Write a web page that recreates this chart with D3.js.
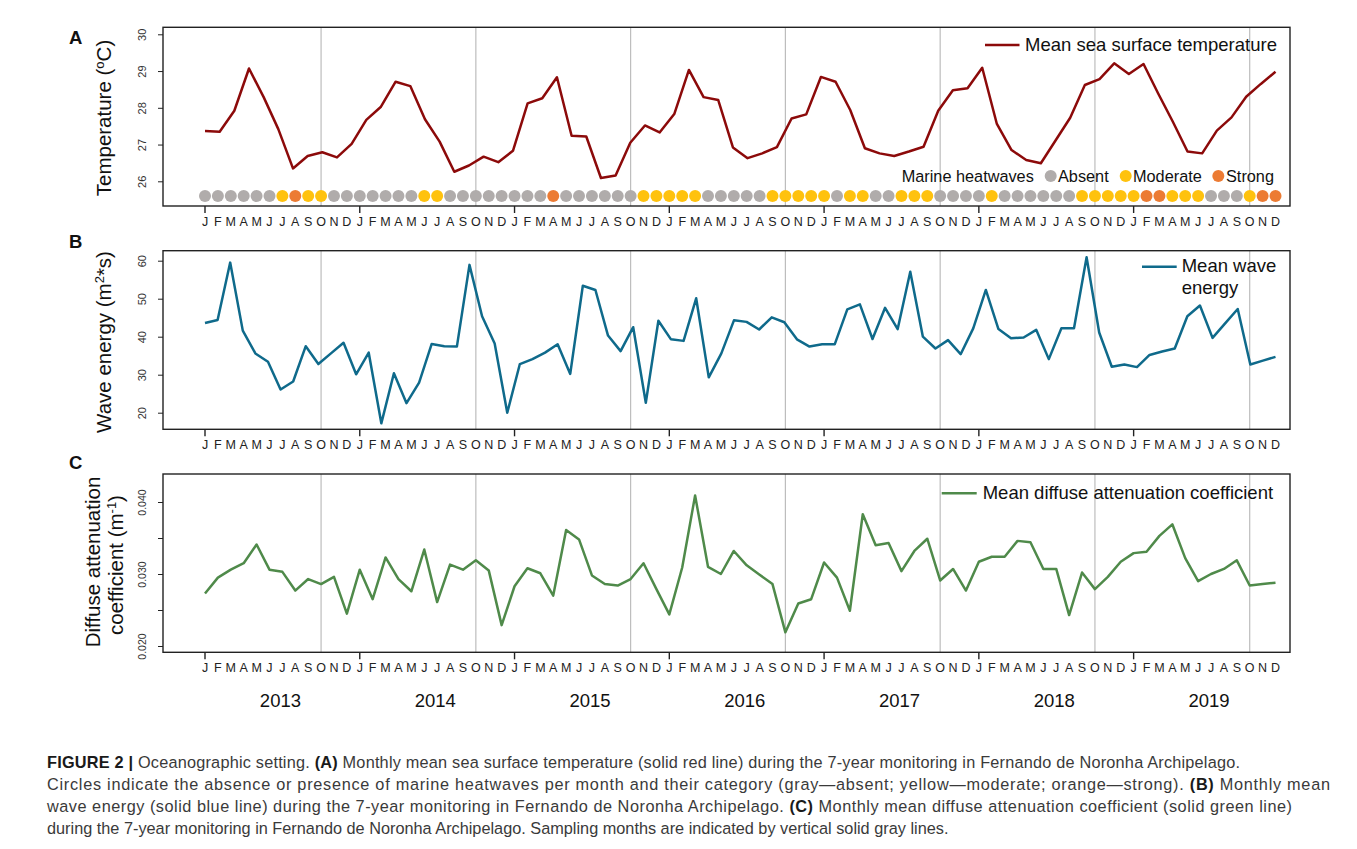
<!DOCTYPE html>
<html>
<head>
<meta charset="utf-8">
<script src="https://cdn.jsdelivr.net/npm/d3@7"></script>
<style>
body { margin: 0; background: #fff; }
text { font-family: "Liberation Sans", Arial, sans-serif; }
</style>
</head>
<body>
<div id="chartDiv"></div>
<script>

// ---- data ----
var monthLetters = ["J","F","M","A","M","J","J","A","S","O","N","D"];
var years = [2013, 2014, 2015, 2016, 2017, 2018, 2019];
var samplingMonth = 9; // October, gray vertical lines

// mean sea surface temperature (degC)
var sst = [27.37, 27.35, 27.92, 29.07, 28.29, 27.42, 26.35, 26.69, 26.79, 26.65,
	27.02, 27.67, 28.03, 28.71, 28.59, 27.69, 27.08, 26.26, 26.43, 26.67,
	26.52, 26.83, 28.12, 28.26, 28.83, 27.24, 27.22, 26.09, 26.16, 27.05,
	27.52, 27.33, 27.83, 29.03, 28.29, 28.21, 26.92, 26.63, 26.76, 26.93,
	27.71, 27.82, 28.84, 28.71, 27.94, 26.90, 26.76, 26.69, 26.81, 26.94,
	27.92, 28.48, 28.53, 29.09, 27.56, 26.85, 26.58, 26.49, 27.11, 27.73,
	28.62, 28.78, 29.21, 28.92, 29.19, 28.39, 27.62, 26.81, 26.76, 27.38,
	27.74, 28.30, 28.65, 28.98];

// marine heatwave category per month, index into heatCategories
var heatCategories = ["Absent", "Moderate", "Strong"];
var heatwaves = [
	0,0,0,0,0,0,1,2,1,1,0,0,
	0,0,0,0,0,1,1,0,0,0,0,0,
	0,0,0,2,0,0,0,0,0,0,1,1,
	1,1,1,0,0,0,0,0,1,1,1,1,
	1,0,1,1,0,0,1,1,1,0,0,0,
	0,1,0,0,0,0,0,0,1,1,1,1,
	1,2,2,1,1,1,0,0,0,1,2,2];

// mean wave energy (m2*s)
var waveEnergy = [43.6, 44.4, 59.5, 41.6, 35.6, 33.4, 26.1, 28.2, 37.5, 32.8,
	35.6, 38.4, 30.1, 35.8, 17.2, 30.4, 22.5, 27.9, 38.1, 37.5,
	37.4, 58.9, 45.4, 38.2, 20.0, 32.8, 34.1, 35.8, 38.0, 30.2,
	53.4, 52.3, 40.3, 36.2, 42.5, 22.6, 44.2, 39.3, 38.9, 50.1,
	29.3, 35.6, 44.3, 43.9, 41.9, 45.1, 43.8, 39.3, 37.4, 38.0,
	38.0, 47.2, 48.5, 39.4, 47.6, 42.0, 57.1, 40.0, 36.9, 39.1,
	35.4, 42.2, 52.3, 42.0, 39.6, 39.8, 41.8, 34.1, 42.2, 42.2,
	60.9, 41.1, 32.1, 32.7, 32.0, 35.2, 36.1, 36.9, 45.4, 48.2,
	39.7, 43.5, 47.3, 32.7, 33.7, 34.7];

// mean diffuse attenuation coefficient (m-1)
var kd = [0.0273, 0.0295, 0.0306, 0.0315, 0.0341, 0.0306, 0.0303, 0.0277, 0.0293, 0.0286,
	0.0296, 0.0245, 0.0306, 0.0265, 0.0323, 0.0293, 0.0276, 0.0334, 0.0261, 0.0313,
	0.0306, 0.0319, 0.0305, 0.0229, 0.0283, 0.0308, 0.0301, 0.0270, 0.0361, 0.0348,
	0.0298, 0.0286, 0.0284, 0.0293, 0.0315, 0.0279, 0.0244, 0.0309, 0.0409, 0.0310,
	0.0300, 0.0332, 0.0312, 0.0299, 0.0286, 0.0219, 0.0259, 0.0265, 0.0316, 0.0295,
	0.0249, 0.0383, 0.0340, 0.0343, 0.0304, 0.0332, 0.0349, 0.0291, 0.0307, 0.0277,
	0.0317, 0.0324, 0.0324, 0.0346, 0.0344, 0.0307, 0.0307, 0.0243, 0.0302, 0.0279,
	0.0296, 0.0317, 0.0329, 0.0331, 0.0353, 0.0369, 0.0322, 0.0290, 0.0300, 0.0307,
	0.0319, 0.0284, 0.0286, 0.0288];

var tempTicks = [26, 27, 28, 29, 30];
var waveTicks = [20, 30, 40, 50, 60];
var kdTicks = [0.020, 0.025, 0.030, 0.035, 0.040];
var kdLabelled = [0.020, 0.030, 0.040];

var captionLines = [
	[["FIGURE 2 | ", true], ["Oceanographic setting. ", false], ["(A)", true], [" Monthly mean sea surface temperature (solid red line) during the 7-year monitoring in Fernando de Noronha Archipelago.", false]],
	[["Circles indicate the absence or presence of marine heatwaves per month and their category (gray\u2014absent; yellow\u2014moderate; orange\u2014strong). ", false], ["(B)", true], [" Monthly mean", false]],
	[["wave energy (solid blue line) during the 7-year monitoring in Fernando de Noronha Archipelago. ", false], ["(C)", true], [" Monthly mean diffuse attenuation coefficient (solid green line)", false]],
	[["during the 7-year monitoring in Fernando de Noronha Archipelago. Sampling months are indicated by vertical solid gray lines.", false]]
];

;(function() {

	var width = 1357;
	var height = 849;
	var frameLeft = 163, frameRight = 1290;
	var plotLeft = 205, plotRight = 1275.5;
	var ink = "#222";

	var colors = { sst: "#8c0a0a", wave: "#0f6a8b", kd: "#4f8a4a", grid: "#bdbdbd" };
	var heatColor = d3.scaleOrdinal().domain(heatCategories).range(["#b0acab", "#ffc20e", "#ec7b33"]);

	var svg = d3.select("#chartDiv").append("svg")
		.attr("width", width)
		.attr("height", height)
		.style("display", "block");

	svg.append("rect").attr("width", width).attr("height", height).attr("fill", "#fff");

	var nMonths = years.length * 12;
	var xMonth = d3.scaleLinear().domain([0, nMonths - 1]).range([plotLeft, plotRight]);

	var panels = [
		{ key: "A", top: 27.3, bottom: 206, letterY: 43.5,
			y: d3.scaleLinear().domain([26, 30]).range([181.3, 34.3]),
			values: sst, color: colors.sst, ticks: tempTicks, labelled: tempTicks, fmt: d3.format("d") },
		{ key: "B", top: 250.7, bottom: 429.3, letterY: 248,
			y: d3.scaleLinear().domain([20, 60]).range([412.7, 260.7]),
			values: waveEnergy, color: colors.wave, ticks: waveTicks, labelled: waveTicks, fmt: d3.format("d") },
		{ key: "C", top: 474, bottom: 652.3, letterY: 468.5,
			y: d3.scaleLinear().domain([0.020, 0.040]).range([646, 502]),
			values: kd, color: colors.kd, ticks: kdTicks, labelled: kdLabelled, fmt: d3.format(".3f") }
	];

	panels.forEach(drawPanel);
	drawHeatwaves(panels[0]);
	drawLegends();
	drawTitles();
	drawYears();
	drawCaption();

	function drawPanel(p) {
		var g = svg.append("g").attr("class", "panel-" + p.key);

		// sampling months
		g.selectAll(".sampling").data(years).enter().append("line")
			.attr("class", "sampling")
			.attr("x1", function(d, i) { return xMonth(i * 12 + samplingMonth); })
			.attr("x2", function(d, i) { return xMonth(i * 12 + samplingMonth); })
			.attr("y1", p.top).attr("y2", p.bottom)
			.attr("stroke", colors.grid).attr("stroke-width", 1.2);

		// the series has its own number of points spread over the same span
		var xs = d3.scaleLinear().domain([0, p.values.length - 1]).range([plotLeft, plotRight]);
		var line = d3.line()
			.x(function(d, i) { return xs(i); })
			.y(function(d) { return p.y(d); });

		g.append("path").datum(p.values)
			.attr("d", line)
			.attr("fill", "none")
			.attr("stroke", p.color)
			.attr("stroke-width", 2.5)
			.attr("stroke-linejoin", "round");

		// frame
		g.append("rect")
			.attr("x", frameLeft).attr("y", p.top)
			.attr("width", frameRight - frameLeft).attr("height", p.bottom - p.top)
			.attr("fill", "none").attr("stroke", ink).attr("stroke-width", 1.4);

		// y axis, rotated labels like base R
		var axis = d3.axisLeft(p.y).tickValues(p.ticks).tickSize(5)
			.tickFormat(function(d) { return p.labelled.indexOf(d) >= 0 ? p.fmt(d) : ""; });
		var ag = g.append("g").attr("transform", "translate(" + frameLeft + ",0)").call(axis);
		ag.select(".domain").remove();
		ag.selectAll(".tick line").attr("stroke", ink);
		ag.selectAll(".tick text")
			.attr("transform", "rotate(-90)")
			.attr("x", 0).attr("y", -17.5).attr("dy", 0)
			.attr("text-anchor", "middle")
			.attr("fill", "#333")
			.style("font-size", p.key == "C" ? "10.5px" : "11px");

		// year ticks at January
		g.selectAll(".yeartick").data(years).enter().append("line")
			.attr("x1", function(d, i) { return xMonth(i * 12); })
			.attr("x2", function(d, i) { return xMonth(i * 12); })
			.attr("y1", p.bottom).attr("y2", p.bottom + 7)
			.attr("stroke", ink).attr("stroke-width", 1.4);

		// month letters
		var months = d3.range(nMonths);
		g.selectAll(".month").data(months).enter().append("text")
			.attr("x", function(d) { return xMonth(d); })
			.attr("y", p.bottom + 19.5)
			.attr("text-anchor", "middle")
			.attr("fill", ink)
			.style("font-size", "12.5px")
			.text(function(d) { return monthLetters[d % 12]; });

		svg.append("text")
			.attr("x", 69).attr("y", p.letterY)
			.style("font-size", "18.5px").style("font-weight", "bold")
			.attr("fill", "#111")
			.text(p.key);
	}

	function drawHeatwaves(p) {
		svg.append("g").selectAll("circle").data(heatwaves).enter().append("circle")
			.attr("cx", function(d, i) { return xMonth(i); })
			.attr("cy", p.y(25.6))
			.attr("r", 6)
			.attr("fill", function(d) { return heatColor(heatCategories[d]); });
	}

	function legendLine(x1, x2, y, color) {
		svg.append("line").attr("x1", x1).attr("x2", x2).attr("y1", y).attr("y2", y)
			.attr("stroke", color).attr("stroke-width", 2.6);
	}

	function legendText(x, y, size, txt) {
		return svg.append("text").attr("x", x).attr("y", y)
			.style("font-size", size + "px").attr("fill", "#111").text(txt);
	}

	function drawLegends() {
		legendLine(985, 1019.5, 45, colors.sst);
		legendText(1025, 50.7, 18.5, "Mean sea surface temperature");

		legendText(901.7, 181.7, 16.3, "Marine heatwaves");
		var items = [{ cx: 1050.7, tx: 1058 }, { cx: 1125.7, tx: 1133 }, { cx: 1218.3, tx: 1226 }];
		items.forEach(function(it, i) {
			svg.append("circle").attr("cx", it.cx).attr("cy", 176).attr("r", 6)
				.attr("fill", heatColor(heatCategories[i]));
			legendText(it.tx, 181.7, 16.3, heatCategories[i]);
		});

		legendLine(1142, 1176.7, 266.7, colors.wave);
		legendText(1181.7, 271.7, 18.5, "Mean wave");
		legendText(1181.7, 293.5, 18.5, "energy");

		legendLine(941.7, 976.7, 493.3, colors.kd);
		legendText(982.7, 499.3, 18.5, "Mean diffuse attenuation coefficient");
	}

	function drawTitles() {
		var t1 = svg.append("text")
			.attr("transform", "translate(111,118) rotate(-90)")
			.attr("text-anchor", "middle")
			.style("font-size", "20.5px").attr("fill", "#111");
		t1.append("tspan").text("Temperature (");
		t1.append("tspan").attr("dy", -7).style("font-size", "13px").text("o");
		t1.append("tspan").attr("dy", 7).text("C)");

		var t2 = svg.append("text")
			.attr("transform", "translate(111,342) rotate(-90)")
			.attr("text-anchor", "middle")
			.style("font-size", "20.5px").attr("fill", "#111");
		t2.append("tspan").text("Wave energy (m");
		t2.append("tspan").attr("dy", -7).style("font-size", "13px").text("2");
		t2.append("tspan").attr("dy", 7).text("*s)");

		svg.append("text")
			.attr("transform", "translate(100,562) rotate(-90)")
			.attr("text-anchor", "middle")
			.style("font-size", "20.5px").attr("fill", "#111")
			.text("Diffuse attenuation");

		var t3 = svg.append("text")
			.attr("transform", "translate(123,565) rotate(-90)")
			.attr("text-anchor", "middle")
			.style("font-size", "20.5px").attr("fill", "#111");
		t3.append("tspan").text("coefficient (m");
		t3.append("tspan").attr("dy", -7).style("font-size", "13px").text("-1");
		t3.append("tspan").attr("dy", 7).text(")");
	}

	function drawYears() {
		svg.selectAll(".year").data(years).enter().append("text")
			.attr("x", function(d, i) { return xMonth(i * 12 + 5.85); })
			.attr("y", 706.5)
			.attr("text-anchor", "middle")
			.style("font-size", "18.5px")
			.attr("fill", "#111")
			.text(function(d) { return d; });
	}

	function drawCaption() {
		// right ends of the caption lines in the figure (last line left ragged)
		var lineEnds = [1240, 1330, 1292, null];
		var cap = svg.append("g").attr("class", "caption");
		captionLines.forEach(function(parts, i) {
			var t = cap.append("text")
				.attr("x", 47).attr("y", 768 + i * 22)
				.style("font-size", "16.3px")
				.attr("fill", "#3a3a3a");
			parts.forEach(function(part) {
				t.append("tspan")
					.style("font-weight", part[1] ? "bold" : "normal")
					.attr("fill", part[1] ? "#1a1a1a" : "#3a3a3a")
					.text(part[0]);
			});
			var target = lineEnds[i];
			if (target && t.node().getComputedTextLength() < target - 47) {
				t.attr("textLength", target - 47).attr("lengthAdjust", "spacing");
			}
		});
	}

})();
</script>
</body>
</html>
